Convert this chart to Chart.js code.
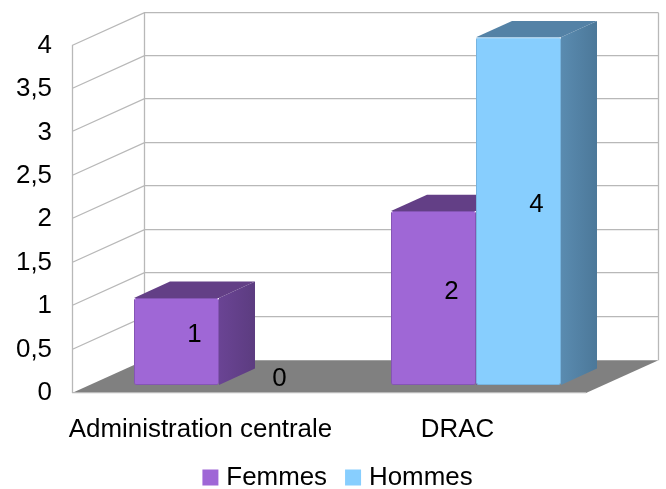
<!DOCTYPE html>
<html>
<head>
<meta charset="utf-8">
<style>
html, body { margin: 0; padding: 0; background: #fff; }
#wrap { width: 666px; height: 489px; }
</style>
<script src="https://cdn.jsdelivr.net/npm/chart.js@4"></script>
</head>
<body>
<div id="wrap"><canvas id="chart"></canvas></div>
<script>
var categories = ['Administration centrale', 'DRAC'];
var femmes = [1, 2];
var hommes = [0, 4];

// 3D look: the back wall sits (wallX, wallY) away from the front of the floor,
// bars start at a quarter of that depth and take half of it
var wallX = 72.5, wallY = -32.8;
var barShiftX = 18.5, barShiftY = wallY / 4;
var barDepthX = 36, barDepthY = wallY / 2;
var fontName = '"Liberation Sans", Arial, sans-serif';
var fontSize = 25.9;

function fillFace(ctx, pts, fill) {
    ctx.beginPath();
    ctx.moveTo(pts[0][0], pts[0][1]);
    for (var i = 1; i < pts.length; i++) ctx.lineTo(pts[i][0], pts[i][1]);
    ctx.closePath();
    ctx.fillStyle = fill;
    ctx.fill();
}

var fake3d = {
    id: 'fake3d',
    afterLayout: function(chart) {
        // legend is centred on the whole picture, not on the plot
        var legend = chart.legend;
        legend.right = legend.left + 680;
        legend.top += 11.5;
        // x labels get clipped to the scale box otherwise
        chart.scales.x.bottom = chart.height;
    },
    beforeDatasetsDraw: function(chart) {
        var ctx = chart.ctx, a = chart.chartArea, y = chart.scales.y;
        ctx.save();
        // floor
        fillFace(ctx, [[a.left, a.bottom], [a.right, a.bottom],
            [a.right + wallX, a.bottom + wallY], [a.left + wallX, a.bottom + wallY]], '#808080');
        // walls and grid
        ctx.strokeStyle = '#b8b8b8';
        ctx.lineWidth = 1.3;
        ctx.beginPath();
        y.ticks.forEach(function(t) {
            var py = Math.round(y.getPixelForValue(t.value)) - 0.5;
            if (t.value === 0) return;
            ctx.moveTo(a.left, py);
            ctx.lineTo(a.left + wallX, py + wallY);
            ctx.lineTo(a.right + wallX, py + wallY);
        });
        var top = a.top + wallY, bot = a.bottom + wallY;
        ctx.moveTo(a.left + 0.5, a.top);
        ctx.lineTo(a.left + 0.5, a.bottom);
        ctx.moveTo(a.left + wallX, top);
        ctx.lineTo(a.left + wallX, bot);
        ctx.moveTo(a.right + wallX, top);
        ctx.lineTo(a.right + wallX, bot);
        ctx.moveTo(a.left, a.bottom - 0.5);
        ctx.lineTo(a.right, a.bottom - 0.5);
        ctx.stroke();
        // side and top faces of the bars, fronts come after
        [0, 1].forEach(function(d) {
            var ds = chart.data.datasets[d];
            chart.getDatasetMeta(d).data.forEach(function(el, i) {
                if (!ds.data[i]) return;
                var l = el.x - el.width / 2 + barShiftX, r = el.x + el.width / 2 + barShiftX;
                var t = el.y + barShiftY, b = el.base + barShiftY;
                var g = ctx.createLinearGradient(r, 0, r + barDepthX, 0);
                g.addColorStop(0, ds.sideFrom);
                g.addColorStop(1, ds.sideTo);
                fillFace(ctx, [[r, t], [r + barDepthX, t + barDepthY], [r + barDepthX, b + barDepthY], [r, b]], g);
                fillFace(ctx, [[l, t], [l + barDepthX, t + barDepthY], [r + barDepthX, t + barDepthY], [r, t]], ds.topColor);
            });
        });
        ctx.restore();
    },
    beforeDatasetDraw: function(chart) {
        chart.ctx.save();
        chart.ctx.translate(barShiftX, barShiftY);
    },
    afterDatasetDraw: function(chart) {
        chart.ctx.restore();
    },
    afterDatasetsDraw: function(chart) {
        var ctx = chart.ctx;
        ctx.save();
        ctx.font = fontSize + 'px ' + fontName;
        ctx.fillStyle = '#000';
        ctx.textAlign = 'center';
        ctx.textBaseline = 'middle';
        [0, 1].forEach(function(d) {
            var ds = chart.data.datasets[d];
            chart.getDatasetMeta(d).data.forEach(function(el, i) {
                ctx.fillText(String(ds.data[i]), el.x + barDepthX + 0.5, (el.y + el.base) / 2 + barDepthY + 2);
            });
        });
        ctx.restore();
    }
};

new Chart(document.getElementById('chart'), {
    type: 'bar',
    plugins: [fake3d],
    data: {
        labels: categories,
        datasets: [{
            label: 'Femmes',
            data: femmes,
            backgroundColor: '#9f67d6',
            borderColor: '#8555b5',
            borderWidth: 1,
            borderSkipped: false,
            borderRadius: 2,
            sideFrom: '#6a4494',
            sideTo: '#5c3c80',
            topColor: '#633f86'
        }, {
            label: 'Hommes',
            data: hommes,
            backgroundColor: '#87cefe',
            borderColor: '#76b4e0',
            borderWidth: 1,
            borderSkipped: false,
            borderRadius: 2,
            sideFrom: '#5a8bb0',
            sideTo: '#4c7899',
            topColor: '#5482a6'
        }]
    },
    options: {
        responsive: true,
        maintainAspectRatio: false,
        animation: false,
        categoryPercentage: 170 / 257,
        barPercentage: 1,
        layout: { padding: { left: 0, top: 45.5, right: 80, bottom: 0 } },
        scales: {
            x: {
                grid: { display: false, drawTicks: false },
                border: { display: false },
                afterFit: function(s) { s.height = 37; },
                ticks: {
                    autoSkip: false,
                    maxRotation: 0,
                    padding: 21,
                    color: '#000',
                    font: { family: fontName, size: fontSize }
                }
            },
            y: {
                min: 0,
                max: 4,
                grid: { display: false, drawTicks: false },
                border: { display: false },
                afterFit: function(s) { s.width = 72; },
                ticks: {
                    stepSize: 0.5,
                    padding: 20,
                    color: '#000',
                    font: { family: fontName, size: fontSize },
                    callback: function(v) { return String(v).replace('.', ','); }
                }
            }
        },
        plugins: {
            tooltip: { enabled: false },
            legend: {
                position: 'bottom',
                labels: {
                    boxWidth: 6,
                    boxHeight: 6,
                    padding: 23,
                    color: '#000',
                    font: { family: fontName, size: fontSize },
                    generateLabels: function(chart) {
                        var items = Chart.defaults.plugins.legend.labels.generateLabels(chart);
                        items.forEach(function(it) {
                            it.strokeStyle = it.fillStyle;
                            it.lineWidth = 10;
                        });
                        return items;
                    }
                }
            }
        }
    }
});
</script>
</body>
</html>
